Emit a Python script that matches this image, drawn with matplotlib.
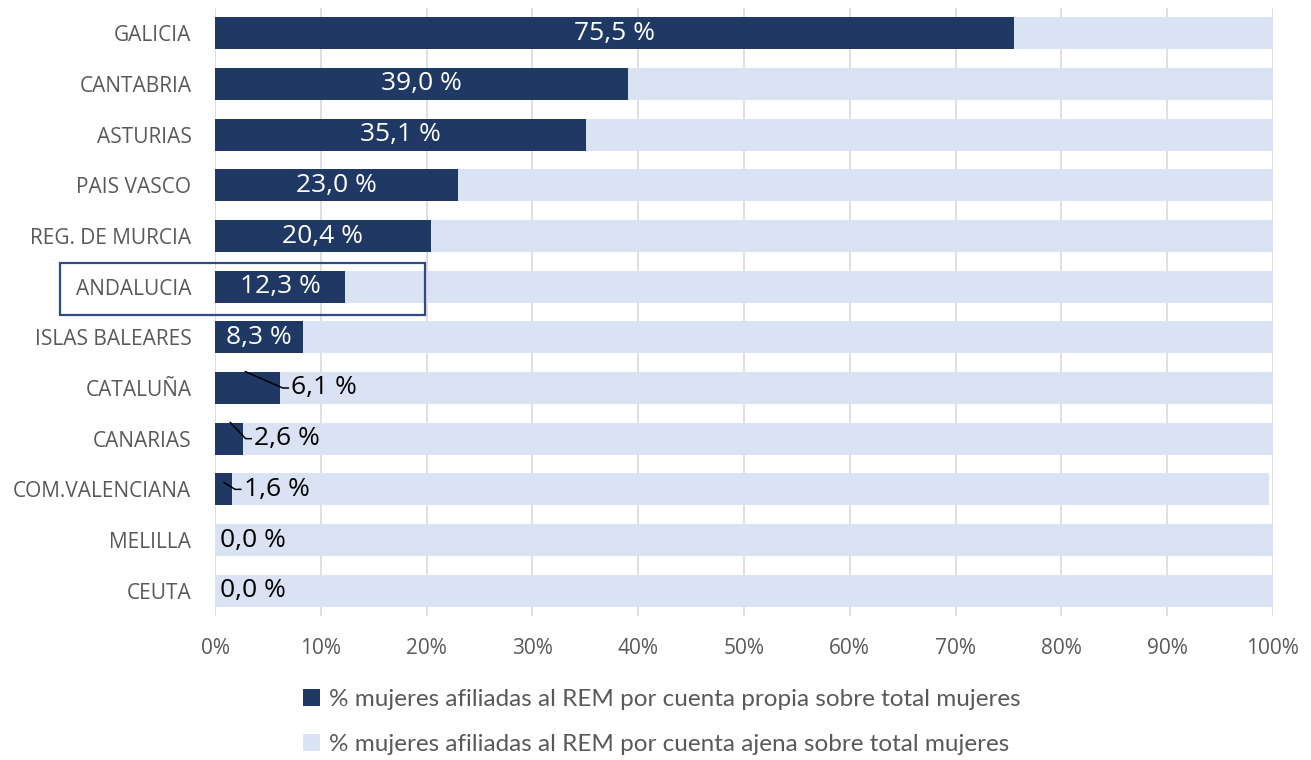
import matplotlib
matplotlib.use("Agg")
import matplotlib.pyplot as plt
from matplotlib.patches import Rectangle, Patch

regions = ["GALICIA", "CANTABRIA", "ASTURIAS", "PAIS VASCO", "REG. DE MURCIA",
           "ANDALUCIA", "ISLAS BALEARES", "CATALUÑA", "CANARIAS",
           "COM.VALENCIANA", "MELILLA", "CEUTA"]
propia = [75.5, 39.0, 35.1, 23.0, 20.4, 12.3, 8.3, 6.1, 2.6, 1.6, 0.0, 0.0]
ajena = [24.5, 61.0, 64.9, 77.0, 79.6, 87.7, 91.7, 93.9, 97.4, 98.0, 100.0, 100.0]
legend_labels = ["% mujeres afiliadas al REM por cuenta propia sobre total mujeres",
                 "% mujeres afiliadas al REM por cuenta ajena sobre total mujeres"]
xticks = [0, 10, 20, 30, 40, 50, 60, 70, 80, 90, 100]

DARK = "#203864"
LIGHT = "#DAE3F3"
GRAY = "#595959"

fig = plt.figure(figsize=(13.11, 7.60), dpi=100)
ax = fig.add_axes([215/1311, 1-616/760, (1273-215)/1311, 608/760])

y = list(range(len(regions)))
h = 0.63
ax.barh(y, propia, height=h, color=DARK, zorder=2, label=legend_labels[0])
ax.barh(y, ajena, left=propia, height=h, color=LIGHT, zorder=2, label=legend_labels[1])

ax.set_ylim(len(regions)-0.5, -0.5)
ax.set_xlim(0, 100)
ax.set_yticks(y)
ax.set_yticklabels(regions, fontsize=15, color=GRAY, family="Open Sans")
ax.set_xticks(xticks)
ax.set_xticklabels([f"{t}%" for t in xticks], fontsize=15, color=GRAY, family="Open Sans")
ax.tick_params(length=0)
ax.tick_params(axis="x", pad=16)
ax.tick_params(axis="y", pad=17)
for s in ax.spines.values():
    s.set_visible(False)
ax.grid(axis="x", color="#D9D9D9", lw=1.2, zorder=0)
ax.set_axisbelow(True)

def fmt(v):
    return f"{v:.1f}".replace(".", ",") + " %"

LFS = 19
for i, v in enumerate(propia):
    if v >= 8:
        ax.text(v/2, i, fmt(v), ha="center", va="center", color="white",
                fontsize=LFS, family="Open Sans", zorder=4)
    elif v > 0:
        if v > 5:
            sx, sy = -3.3, -0.33
        elif v > 2:
            sx, sy = -1.2, -0.33
        else:
            sx, sy = -0.8, -0.14
        xh = v + 0.3
        ax.plot([v + sx, xh, xh + 0.6], [i + sy, i, i], color="black", lw=1.1,
                zorder=3, solid_capstyle="butt")
        ax.text(xh + 0.8, i, fmt(v), ha="left", va="center", fontsize=LFS,
                family="Open Sans", color="black", zorder=4)
    else:
        ax.text(0.5, i, fmt(v), ha="left", va="center", color="black",
                fontsize=LFS, family="Open Sans", zorder=4)

# highlight box around ANDALUCIA
fig.patches.append(Rectangle((60/1311, 1-315/760), (425-60)/1311, 52/760,
                             transform=fig.transFigure, fill=False,
                             edgecolor="#2F4B87", lw=1.6, zorder=5))

handles = [Patch(facecolor=DARK, edgecolor="none"), Patch(facecolor=LIGHT, edgecolor="none")]
leg = fig.legend(handles, legend_labels, loc="center", bbox_to_anchor=(0.505, 1-722/760),
                 frameon=False, ncol=1, prop={"family": "Lato", "size": 17.5},
                 handlelength=0.7, handleheight=0.7, handletextpad=0.35,
                 labelspacing=0.95, labelcolor=GRAY)

fig.savefig("out.png", dpi=100, facecolor="white")
